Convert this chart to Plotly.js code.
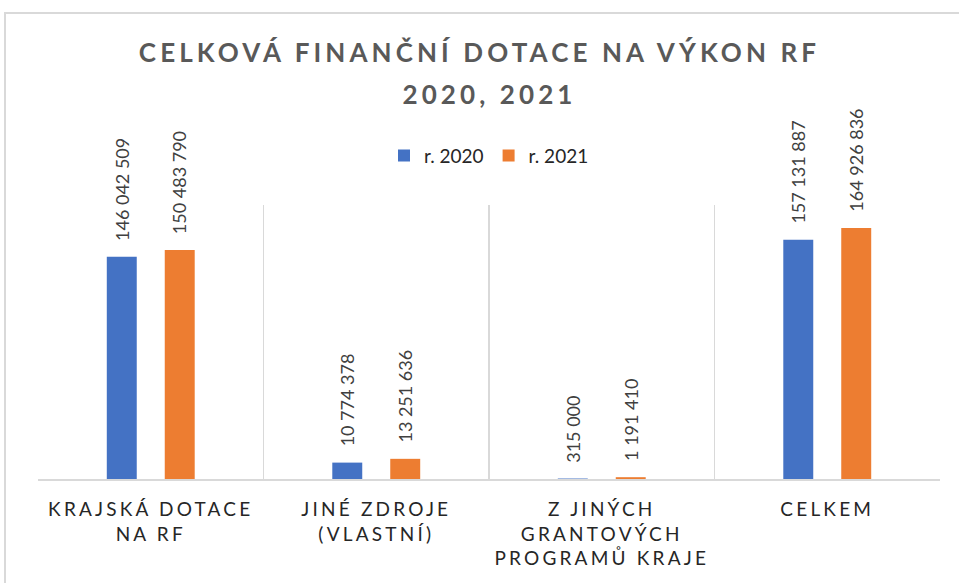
<!DOCTYPE html>
<html>
<head>
<meta charset="utf-8">
<script src="https://cdn.plot.ly/plotly-3.0.1.min.js"></script>
<style>
  html, body { margin: 0; padding: 0; background: #ffffff; overflow: hidden; }
  #frame { position: absolute; left: 4px; top: 12px; width: 1100px; height: 1000px; border: 2px solid #d9d9d9; box-sizing: border-box; }
  #chart { position: absolute; left: 0; top: 0; width: 959px; height: 583px; }
  #chart .gtitle { letter-spacing: 4.1px; }
  #chart .annotation.ttl .annotation-text { letter-spacing: 4.1px; }
  #chart .xtick text { letter-spacing: 3.2px; }
</style>
</head>
<body>
<div id="frame"></div>
<div id="chart"></div>
<script>
const categories = ["KRAJSKÁ DOTACE<br>NA RF", "JINÉ ZDROJE<br>(VLASTNÍ)", "Z JINÝCH<br>GRANTOVÝCH<br>PROGRAMŮ KRAJE", "CELKEM"];
const seriesNames = ["r. 2020", "r. 2021"];
const values2020 = [146042509, 10774378, 315000, 157131887];
const values2021 = [150483790, 13251636, 1191410, 164926836];
const titleLine1 = "CELKOVÁ FINANČNÍ DOTACE NA VÝKON RF";
const titleLine2 = "2020, 2021";

const FONT = "Lato, 'Open Sans', sans-serif";

function fmt(v) {
  return String(Math.round(v)).replace(/\B(?=(\d{3})+(?!\d))/g, " ");
}

function mk(name, vals, color) {
  return {
    type: "bar",
    name: name,
    x: categories,
    y: vals,
    marker: { color: color },
    hoverinfo: "skip"
  };
}

const data = [
  mk(seriesNames[0], values2020, "#4472C4"),
  mk(seriesNames[1], values2021, "#ED7D31")
];

// value labels above each bar (group offset in category units)
const groupOffset = 0.1285;
const labelAnns = [];
[values2020, values2021].forEach(function (vals, s) {
  vals.forEach(function (v, i) {
    labelAnns.push({
      xref: "x", yref: "y",
      x: i + (s === 0 ? -groupOffset : groupOffset),
      y: v,
      text: fmt(v),
      textangle: -90,
      xanchor: "center", yanchor: "bottom",
      yshift: 14,
      showarrow: false,
      font: { family: FONT, size: 18, color: "#404040" }
    });
  });
});

const layout = {
  width: 959,
  height: 583,
  margin: { l: 38, r: 19, t: 205, b: 104 },
  paper_bgcolor: "rgba(0,0,0,0)",
  plot_bgcolor: "rgba(0,0,0,0)",
  barmode: "group",
  bargap: 0.486,
  bargroupgap: 0.483,
  showlegend: true,
  legend: {
    orientation: "h",
    x: 0.5, xanchor: "center",
    y: 1.18, yanchor: "middle",
    font: { family: FONT, size: 19, color: "#262626" },
    itemwidth: 30,
    tracegroupgap: 0
  },
  title: {
    text: titleLine1,
    font: { family: FONT, size: 26, color: "#595959", weight: 700 },
    x: 0.5, xref: "container", xanchor: "center",
    y: 1 - 53 / 583, yref: "container", yanchor: "middle"
  },
  annotations: [{
    name: "ttl",
    text: titleLine2,
    xref: "paper", yref: "paper",
    x: 0.5, y: 1 + (205 - 94) / 274,
    xanchor: "center", yanchor: "middle",
    showarrow: false,
    font: { family: FONT, size: 26, color: "#595959", weight: 700 }
  }].concat(labelAnns),
  xaxis: {
    type: "category",
    range: [-0.5, 3.5],
    tickson: "boundaries",
    showgrid: true,
    gridcolor: "#d9d9d9",
    gridwidth: 1.5,
    showline: true,
    linecolor: "#d9d9d9",
    linewidth: 2,
    ticks: "",
    ticklen: 0,
    ticklabelstandoff: 12,
    tickfont: { family: FONT, size: 19, color: "#262626" },
    fixedrange: true
  },
  yaxis: {
    range: [0, 180000000],
    showgrid: false,
    zeroline: false,
    showticklabels: false,
    showline: false,
    ticks: "",
    fixedrange: true
  }
};

Plotly.newPlot("chart", data, layout, { displayModeBar: false, staticPlot: true }).then(function () {
  // letter-spacing for the second title line (first annotation)
  const t = document.querySelector("#chart .annotation[data-index='0'] .annotation-text");
  if (t) t.style.letterSpacing = "4.1px";
});
</script>
</body>
</html>
